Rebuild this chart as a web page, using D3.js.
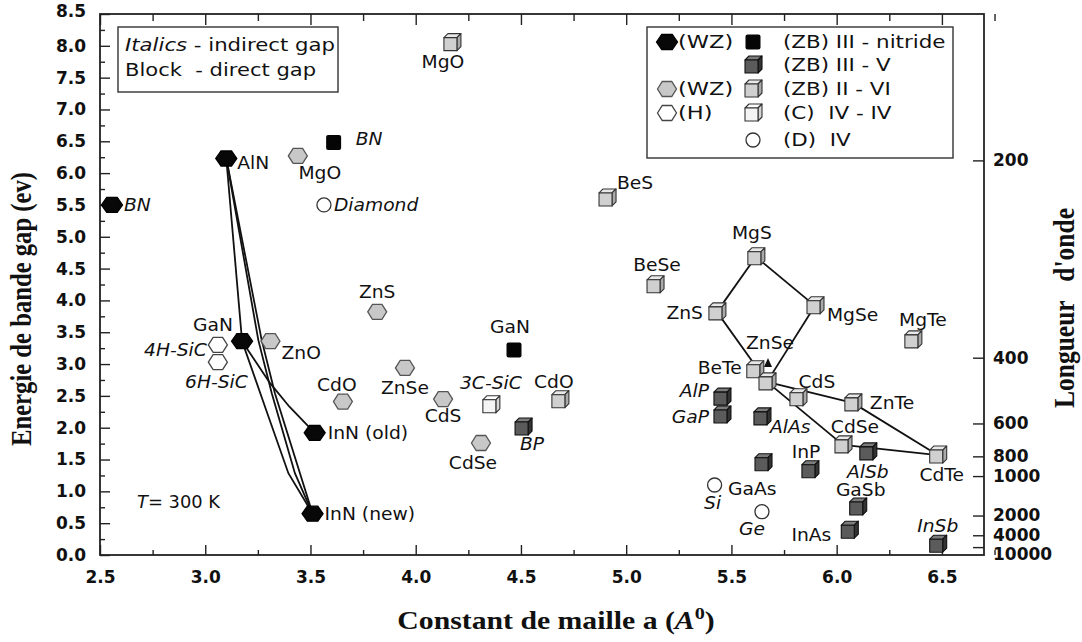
<!DOCTYPE html>
<html>
<head>
<meta charset="utf-8">
<script src="https://cdn.jsdelivr.net/npm/d3@7"></script>
<style>
  body { margin: 0; background: #fff; }
  svg { display: block; }
  text { font-family: "DejaVu Sans", sans-serif; fill: #111; }
</style>
</head>
<body>
<svg id="chart" width="1082" height="642"></svg>
<script>
// ---- data: [name, lattice constant a (Å), band gap (eV), indirect gap?] ----
const xTicks = [2.5, 3.0, 3.5, 4.0, 4.5, 5.0, 5.5, 6.0, 6.5];
const yTicks = [0, 0.5, 1.0, 1.5, 2.0, 2.5, 3.0, 3.5, 4.0, 4.5, 5.0, 5.5, 6.0, 6.5, 7.0, 7.5, 8.0, 8.5];
const waveTicks = [200, 400, 600, 800, 1000, 2000, 4000, 10000];   // nm, E = 1240 / lambda

const wzNitride = [["BN", 2.557, 5.50, true], ["AlN", 3.10, 6.23, false], ["GaN", 3.175, 3.36, false],
                   ["InN (old)", 3.52, 1.92, false], ["InN (new)", 3.51, 0.65, false]];
const wzIIVI = [["MgO", 3.44, 6.27, false], ["ZnO", 3.31, 3.36, false], ["ZnS", 3.817, 3.82, false],
                ["ZnSe", 3.949, 2.94, false], ["CdS", 4.13, 2.45, false], ["CdSe", 4.31, 1.76, false],
                ["CdO", 3.654, 2.41, false]];
const hexSiC = [["4H-SiC", 3.06, 3.30, true], ["6H-SiC", 3.06, 3.03, true]];
const zbNitride = [["BN", 3.61, 6.48, true], ["GaN", 4.467, 3.22, false]];
const zbIIIV = [["BP", 4.51, 2.01, true], ["AlP", 5.455, 2.48, true], ["GaP", 5.455, 2.20, true],
                ["AlAs", 5.645, 2.17, true], ["GaAs", 5.65, 1.45, false], ["InP", 5.873, 1.34, false],
                ["AlSb", 6.148, 1.62, true], ["GaSb", 6.10, 0.755, false], ["InAs", 6.06, 0.39, false],
                ["InSb", 6.48, 0.17, true]];
const zbIIVI = [["MgO", 4.172, 8.05, false], ["BeS", 4.909, 5.61, false], ["BeSe", 5.137, 4.245, false],
                ["ZnS", 5.431, 3.82, false], ["MgS", 5.616, 4.685, false], ["MgSe", 5.897, 3.915, false],
                ["MgTe", 6.362, 3.38, false], ["BeTe", 5.611, 2.91, false], ["ZnSe", 5.669, 2.72, false],
                ["CdS", 5.816, 2.47, false], ["ZnTe", 6.077, 2.39, false], ["CdSe", 6.03, 1.73, false],
                ["CdTe", 6.48, 1.57, false], ["CdO", 4.685, 2.44, false]];
const cIVIV = [["3C-SiC", 4.357, 2.36, true]];
const dIV = [["Diamond", 3.564, 5.50, true], ["Si", 5.42, 1.10, true], ["Ge", 5.645, 0.68, true]];

// alloy curves of the nitrides [a, Eg]
const nitrideCurves = [
  [[3.10, 6.23], [3.175, 3.36]],
  [[3.10, 6.23], [3.252, 3.38], [3.316, 2.54], [3.426, 1.285], [3.51, 0.65]],
  [[3.10, 6.23], [3.268, 3.38], [3.331, 2.54], [3.45, 1.285], [3.51, 0.65]],
  [[3.175, 3.36], [3.308, 2.70], [3.40, 2.33], [3.52, 1.92]],
  [[3.175, 3.36], [3.284, 2.33], [3.395, 1.285], [3.51, 0.65]]
];
// II-VI tie lines, by compound name
const iiviTies = [["ZnS", "MgS"], ["MgS", "MgSe"], ["ZnS", "ZnSe"], ["MgSe", "ZnSe"],
                  ["ZnSe", "ZnTe"], ["ZnTe", "CdTe"], ["ZnSe", "CdSe"], ["CdSe", "CdTe"]];

// ---- label placement: [anchor, dx, dy] relative to the marker ----
const place = {
  "wzN:BN": ["start", 12, 0], "wzN:AlN": ["start", 11, 4], "wzN:GaN": ["middle", -29, -16],
  "wzN:InN (old)": ["start", 13, 0], "wzN:InN (new)": ["start", 12, 0],
  "wz:MgO": ["middle", 22, 17], "wz:ZnO": ["start", 11, 12], "wz:ZnS": ["middle", 0, -20],
  "wz:ZnSe": ["middle", 0, 20], "wz:CdS": ["middle", 0, 17], "wz:CdSe": ["middle", -8, 20],
  "wz:CdO": ["middle", -6, -17],
  "h:4H-SiC": ["end", -11, 5], "h:6H-SiC": ["end", 30, 20],
  "zbN:BN": ["start", 22, -4], "zbN:GaN": ["middle", -4, -23],
  "v:BP": ["middle", 9, 17], "v:AlP": ["end", -13, -6], "v:GaP": ["end", -13, 2], "v:AlAs": ["start", 8, 10],
  "v:GaAs": ["start", -35, 26], "v:InP": ["middle", -4, -18], "v:AlSb": ["middle", 0, 20],
  "v:GaSb": ["middle", 3, -17], "v:InAs": ["end", -18, 5], "v:InSb": ["middle", 0, -18],
  "vi:MgO": ["middle", -9, 19], "vi:BeS": ["start", 10, -15], "vi:BeSe": ["middle", 2, -20],
  "vi:ZnS": ["end", -14, 1], "vi:MgS": ["middle", -4, -24], "vi:MgSe": ["start", 12, 9],
  "vi:MgTe": ["middle", 10, -20], "vi:BeTe": ["end", -13, -2], "vi:ZnSe": ["middle", 3, -39],
  "vi:CdS": ["middle", 19, -16], "vi:ZnTe": ["start", 17, 0], "vi:CdSe": ["middle", 12, -18],
  "vi:CdTe": ["middle", 4, 20], "vi:CdO": ["middle", -6, -18],
  "c:3C-SiC": ["middle", 0, -22],
  "d:Diamond": ["start", 10, 0], "d:Si": ["middle", -2, 18], "d:Ge": ["middle", -10, 17]
};

const svg = d3.select("#chart");
svg.append("rect").attr("width", 1082).attr("height", 642).attr("fill", "#fff");

const x = d3.scaleLinear().domain([2.5, 6.7]).range([100, 984]);
const y = d3.scaleLinear().domain([0, 8.5]).range([555, 14]);

// text with the horizontal stretch of the original figure
function txt(g, px, py, s, opt) {
  opt = opt || {};
  return g.append("text")
    .attr("transform", `translate(${px},${py}) scale(${opt.sx || 1.1},1)`)
    .attr("text-anchor", opt.anchor || "start")
    .attr("dominant-baseline", "central")
    .style("font-size", (opt.size || 17) + "px")
    .style("font-style", opt.it ? "italic" : "normal")
    .text(s);
}

// ---- axes ----
function styleAxis(g) {
  g.select(".domain").remove();
  g.selectAll(".tick line").attr("stroke", "#222").attr("stroke-width", 1.4);
  g.selectAll(".tick text").attr("font-family", "DejaVu Sans").attr("font-size", 17)
    .attr("font-weight", "bold").attr("fill", "#111");
}
const fmt = d3.format(".1f");
const xMinor = xTicks.map(v => v + 0.25);
const yMinor = yTicks.slice(0, -1).map(v => v + 0.25);

svg.append("g").attr("transform", `translate(0,${y(0)})`)
  .call(d3.axisBottom(x).tickValues(xTicks).tickSize(-10).tickPadding(16).tickFormat(fmt)).call(styleAxis);
svg.append("g").attr("transform", `translate(0,${y(0)})`)
  .call(d3.axisBottom(x).tickValues(xMinor).tickSize(-5).tickFormat("")).call(styleAxis);
svg.append("g").attr("transform", `translate(0,${y(8.5)})`)
  .call(d3.axisTop(x).tickValues(xTicks).tickSize(-11).tickFormat("")).call(styleAxis);
svg.append("g").attr("transform", `translate(0,${y(8.5)})`)
  .call(d3.axisTop(x).tickValues(xMinor).tickSize(-7).tickFormat("")).call(styleAxis);
const gL = svg.append("g").attr("transform", `translate(${x(2.5)},0)`)
  .call(d3.axisLeft(y).tickValues(yTicks).tickSize(-10).tickPadding(14).tickFormat(fmt)).call(styleAxis);
// the top label sits tight against the page edge
gL.selectAll(".tick text").filter(d => d === 8.5).attr("y", -3);
svg.append("g").attr("transform", `translate(${x(2.5)},0)`)
  .call(d3.axisLeft(y).tickValues(yMinor).tickSize(-5).tickFormat("")).call(styleAxis);

const gR = svg.append("g").attr("transform", `translate(${x(6.7)},0)`)
  .call(d3.axisRight(y).tickValues(waveTicks.map(w => 1240 / w)).tickSize(-11).tickPadding(9)
    .tickFormat((d, i) => waveTicks[i]))
  .call(styleAxis);
// keep crowded wavelength labels apart
let lastY = -1e9;
gR.selectAll(".tick").sort((a, b) => b - a).each(function (d) {
  const ty = y(d);
  const want = Math.max(ty, lastY + 19);
  d3.select(this).select("text").attr("y", want - ty).attr("dy", "0.32em");
  lastY = want;
});

// frame
svg.append("rect").attr("x", x(2.5)).attr("y", y(8.5))
  .attr("width", x(6.7) - x(2.5)).attr("height", y(0) - y(8.5))
  .attr("fill", "none").attr("stroke", "#222").attr("stroke-width", 1.8);

// axis titles
const serif = "Liberation Serif, Times New Roman, serif";
svg.append("text").attr("transform", "translate(556,629) scale(1.19,1)")
  .attr("text-anchor", "middle")
  .style("font-family", serif).style("font-weight", "bold").style("font-size", "25px")
  .call(t => {
    t.append("tspan").text("Constant de maille a (");
    t.append("tspan").style("font-style", "italic").text("A");
    t.append("tspan").attr("dy", -10).style("font-size", "17px").text("0");
    t.append("tspan").attr("dy", 10).text(")");
  });
svg.append("text").attr("transform", "translate(31,309) rotate(-90) scale(1,1.19)")
  .attr("text-anchor", "middle")
  .attr("textLength", 274).attr("lengthAdjust", "spacingAndGlyphs")
  .style("font-family", serif).style("font-weight", "bold").style("font-size", "25px")
  .text("Energie de bande gap (ev)");
svg.append("text").attr("transform", "translate(1074,308) rotate(-90) scale(1,1.19)")
  .attr("text-anchor", "middle").attr("xml:space", "preserve").style("white-space", "pre")
  .attr("textLength", 200).attr("lengthAdjust", "spacingAndGlyphs")
  .style("font-family", serif).style("font-weight", "bold").style("font-size", "25px")
  .text("Longueur   d'onde");

// ---- markers ----
function hexPts(w, h) {
  const a = w / 2, b = h / 2, c = w / 4;
  return [[-a, 0], [-c, -b], [c, -b], [a, 0], [c, b], [-c, b]].map(p => p.join(",")).join(" ");
}
function drawHex(g, px, py, kind) {
  const st = { black: ["#080808", "#000"], gray: ["#c8c8c8", "#555"], white: ["#fff", "#444"] }[kind];
  g.append("polygon").attr("points", hexPts(kind === "black" ? 21 : 19, 15))
    .attr("transform", `translate(${px},${py})`)
    .attr("fill", st[0]).attr("stroke", st[1]).attr("stroke-width", 1.3);
}
function drawCube(g, px, py, kind) {
  const c = { dark: ["#5b5b5b", "#7c7c7c", "#333", "#111"],
              light: ["#d0d0d0", "#e8e8e8", "#aaa", "#333"],
              white: ["#f4f4f4", "#fff", "#d6d6d6", "#333"] }[kind];
  const s = 13, d = 4;
  const G = g.append("g").attr("transform", `translate(${px - 8},${py - 5})`)
    .attr("stroke", c[3]).attr("stroke-width", 1.1).attr("stroke-linejoin", "round");
  G.append("polygon").attr("points", `0,0 ${d},${-d} ${s + d},${-d} ${s},0`).attr("fill", c[1]);
  G.append("polygon").attr("points", `${s},0 ${s + d},${-d} ${s + d},${s - d} ${s},${s}`).attr("fill", c[2]);
  G.append("rect").attr("width", s).attr("height", s).attr("fill", c[0]);
}
function drawSquare(g, px, py) {
  g.append("rect").attr("x", px - 7.5).attr("y", py - 7.5).attr("width", 15).attr("height", 15)
    .attr("rx", 2).attr("fill", "#050505");
}
function drawCircle(g, px, py) {
  g.append("circle").attr("cx", px).attr("cy", py).attr("r", 7)
    .attr("fill", "#fff").attr("stroke", "#333").attr("stroke-width", 1.3);
}

// ---- tie lines ----
const line = d3.line().x(d => x(d[0])).y(d => y(d[1]));
const gLines = svg.append("g").attr("fill", "none").attr("stroke", "#111").attr("stroke-width", 1.8);
nitrideCurves.forEach(c => gLines.append("path").attr("d", line(c)));
const byName = new Map(zbIIVI.map(d => [d[0], [d[1], d[2]]]));
iiviTies.forEach(t => gLines.append("path").attr("d", line([byName.get(t[0]), byName.get(t[1])])));

// ---- series ----
const gM = svg.append("g");
const gT = svg.append("g");
function series(data, key, draw) {
  data.forEach(d => {
    const px = x(d[1]), py = y(d[2]);
    draw(gM, px, py);
    const p = place[key + ":" + d[0]];
    txt(gT, px + p[1], py + p[2], d[0], { anchor: p[0], it: d[3] });
  });
}
series(wzIIVI, "wz", (g, a, b) => drawHex(g, a, b, "gray"));
series(hexSiC, "h", (g, a, b) => drawHex(g, a, b, "white"));
series(wzNitride, "wzN", (g, a, b) => drawHex(g, a, b, "black"));
series(zbIIIV, "v", (g, a, b) => drawCube(g, a, b, "dark"));
series(zbIIVI, "vi", (g, a, b) => drawCube(g, a, b, "light"));
series(zbNitride, "zbN", drawSquare);
series(cIVIV, "c", (g, a, b) => drawCube(g, a, b, "white"));
series(dIV, "d", drawCircle);

// little arrow from the ZnSe label to its cube
const zs = byName.get("ZnSe");
svg.append("path").attr("d", "M0,-7 L4,2 L-4,2 Z").attr("fill", "#111")
  .attr("transform", `translate(${x(zs[0]) + 1},${y(zs[1]) - 17})`);

// ---- note boxes ----
svg.append("rect").attr("x", 118).attr("y", 27).attr("width", 220).attr("height", 65)
  .attr("fill", "#fff").attr("stroke", "#333").attr("stroke-width", 1.4);
const t1 = txt(svg, 125, 45, "", { size: 18, sx: 1.18 });
t1.append("tspan").style("font-style", "italic").text("Italics");
t1.append("tspan").text(" - indirect gap");
txt(svg, 125, 70, "Block  - direct gap", { size: 18, sx: 1.17 }).attr("xml:space", "preserve").style("white-space", "pre");

const tT = txt(svg, 137, 502, "", { size: 17, sx: 1.05 });
tT.append("tspan").style("font-style", "italic").text("T");
tT.append("tspan").text("= 300 K");

// ---- legend ----
const lg = svg.append("g");
lg.append("rect").attr("x", 647).attr("y", 27).attr("width", 306).attr("height", 131)
  .attr("fill", "#fff").attr("stroke", "#333").attr("stroke-width", 1.4);
const rows = [42, 65, 89, 113, 140];
drawHex(lg, 667, rows[0], "black");
drawHex(lg, 667, rows[2], "gray");
drawHex(lg, 667, rows[3], "white");
txt(lg, 678, rows[0], "(WZ)", { size: 18, sx: 1.25 });
txt(lg, 678, rows[2], "(WZ)", { size: 18, sx: 1.25 });
txt(lg, 678, rows[3], "(H)", { size: 18, sx: 1.25 });
drawSquare(lg, 753, rows[0]);
drawCube(lg, 753, rows[1], "dark");
drawCube(lg, 753, rows[2], "light");
drawCube(lg, 753, rows[3], "white");
drawCircle(lg, 753, rows[4]);
const legTxt = ["(ZB) III - nitride", "(ZB) III - V", "(ZB) II - VI", "(C)  IV - IV", "(D)  IV"];
legTxt.forEach((s, i) => txt(lg, 783, rows[i], s, { size: 18, sx: 1.19 })
  .attr("xml:space", "preserve").style("white-space", "pre"));
</script>
</body>
</html>
